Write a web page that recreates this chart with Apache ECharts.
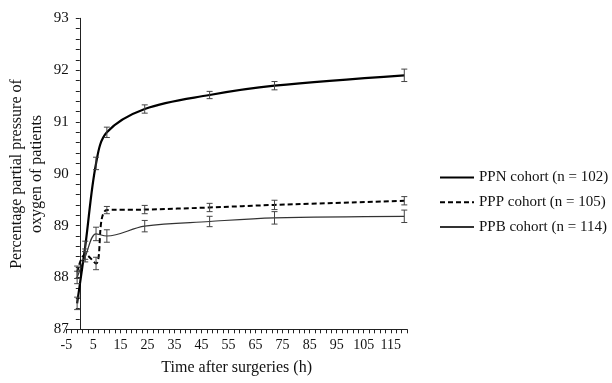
<!DOCTYPE html>
<html>
<head>
<meta charset="utf-8">
<script src="https://cdn.jsdelivr.net/npm/echarts@6/dist/echarts.min.js"></script>
<style>html,body{margin:0;padding:0;background:#fff}#c{width:612px;height:383px}</style>
</head>
<body>
<div id="c"></div>
<script>
// Time points (h)
const times = [-1, 2, 6, 10, 24, 48, 72, 120];
// Series means
const ppnMean = [87.5, 88.6, 90.2, 90.8, 91.25, 91.52, 91.70, 91.90];
const pppMean = [88.1, 88.45, 88.27, 89.3, 89.31, 89.35, 89.40, 89.48];
const ppbMean = [88.0, 88.4, 88.84, 88.8, 88.99, 89.08, 89.15, 89.18];
// Error half-widths
const ppnErr = [0.12, 0.1, 0.12, 0.1, 0.08, 0.07, 0.08, 0.12];
const pppErr = [0.12, 0.1, 0.12, 0.07, 0.08, 0.08, 0.09, 0.08];
const ppbErr = [0.12, 0.1, 0.13, 0.12, 0.11, 0.1, 0.12, 0.12];
const seriesNames = ['PPN cohort (n = 102)', 'PPP cohort (n = 105)', 'PPB cohort (n = 114)'];
const xTickLabels = ['-5','5','15','25','35','45','55','65','75','85','95','105','115'];
const yAxisTitle = 'Percentage partial pressure of\noxygen of patients';

const serif = '"Liberation Serif", "DejaVu Serif", serif';
function pts(m){ return times.map((t,i)=>[t,m[i]]); }
function errData(m,e){ return times.map((t,i)=>[t,m[i]-e[i],m[i]+e[i]]); }
function errRender(params, api){
  const x = api.value(0);
  const lo = api.coord([x, api.value(1)]);
  const hi = api.coord([x, api.value(2)]);
  const w = 3;
  const st = {stroke:'#444', lineWidth:1};
  return {type:'group', children:[
    {type:'line', shape:{x1:lo[0],y1:lo[1],x2:hi[0],y2:hi[1]}, style:st},
    {type:'line', shape:{x1:lo[0]-w,y1:lo[1],x2:lo[0]+w,y2:lo[1]}, style:st},
    {type:'line', shape:{x1:hi[0]-w,y1:hi[1],x2:hi[0]+w,y2:hi[1]}, style:st}
  ]};
}
const chart = echarts.init(document.getElementById('c'), null, {renderer:'canvas'});
chart.setOption({
  animation:false,
  backgroundColor:'#fff',
  grid:{left:66.3, right:205, top:18.3, bottom:53.7, outerBoundsMode:'none', containLabel:false},
  graphic:[{
    type:'text', x:27, y:174, rotation:Math.PI/2,
    style:{text:yAxisTitle, align:'center', verticalAlign:'middle',
      font:'16px ' + serif, lineHeight:20, fill:'#111'}
  }],
  xAxis:{
    type:'value', min:-5, max:121, interval:10,
    axisLine:{onZero:false, lineStyle:{color:'#222', width:1}},
    axisTick:{show:true, length:4, lineStyle:{color:'#222'}},
    minorTick:{show:true, splitNumber:5, length:4, lineStyle:{color:'#222'}},
    splitLine:{show:false},
    axisLabel:{showMaxLabel:false, fontFamily:serif, fontSize:14, color:'#111', margin:9,
      formatter:(v)=>{const s=String(v); return xTickLabels.includes(s)?s:'';}},
    name:'Time after surgeries (h)', nameLocation:'middle', nameGap:30,
    nameTextStyle:{fontFamily:serif, fontSize:16, color:'#111'}
  },
  yAxis:{
    type:'value', min:87, max:93, interval:1, offset:-13.5,
    axisLine:{show:true, onZero:false, lineStyle:{color:'#222', width:1}},
    axisTick:{show:true, length:4, lineStyle:{color:'#222'}},
    minorTick:{show:true, splitNumber:5, length:4, lineStyle:{color:'#222'}},
    splitLine:{show:false},
    axisLabel:{fontFamily:serif, fontSize:15, color:'#111', margin:11}
  },
  legend:{
    orient:'vertical', left:434, top:165, itemWidth:34, itemHeight:12, itemGap:9.7,
    textStyle:{fontFamily:serif, fontSize:15, color:'#111'},
    itemStyle:{opacity:0},
    data:seriesNames
  },
  series:[
    {name:seriesNames[0], type:'line', data:pts(ppnMean), smooth:0.35, symbol:'none',
      lineStyle:{color:'#000', width:2.2}, itemStyle:{color:'#000'}, z:4},
    {name:seriesNames[1], type:'line', data:pts(pppMean), smooth:0.35, symbol:'none',
      lineStyle:{color:'#000', width:2, type:[5,3]}, itemStyle:{color:'#000'}, z:3},
    {name:seriesNames[2], type:'line', data:pts(ppbMean), smooth:0.35, symbol:'none',
      lineStyle:{color:'#333', width:1.2}, itemStyle:{color:'#333'}, z:3},
    {type:'custom', renderItem:errRender, data:errData(ppnMean,ppnErr), encode:{x:0,y:[1,2]}, z:5},
    {type:'custom', renderItem:errRender, data:errData(pppMean,pppErr), encode:{x:0,y:[1,2]}, z:5},
    {type:'custom', renderItem:errRender, data:errData(ppbMean,ppbErr), encode:{x:0,y:[1,2]}, z:5}
  ]
});
</script>
</body>
</html>
